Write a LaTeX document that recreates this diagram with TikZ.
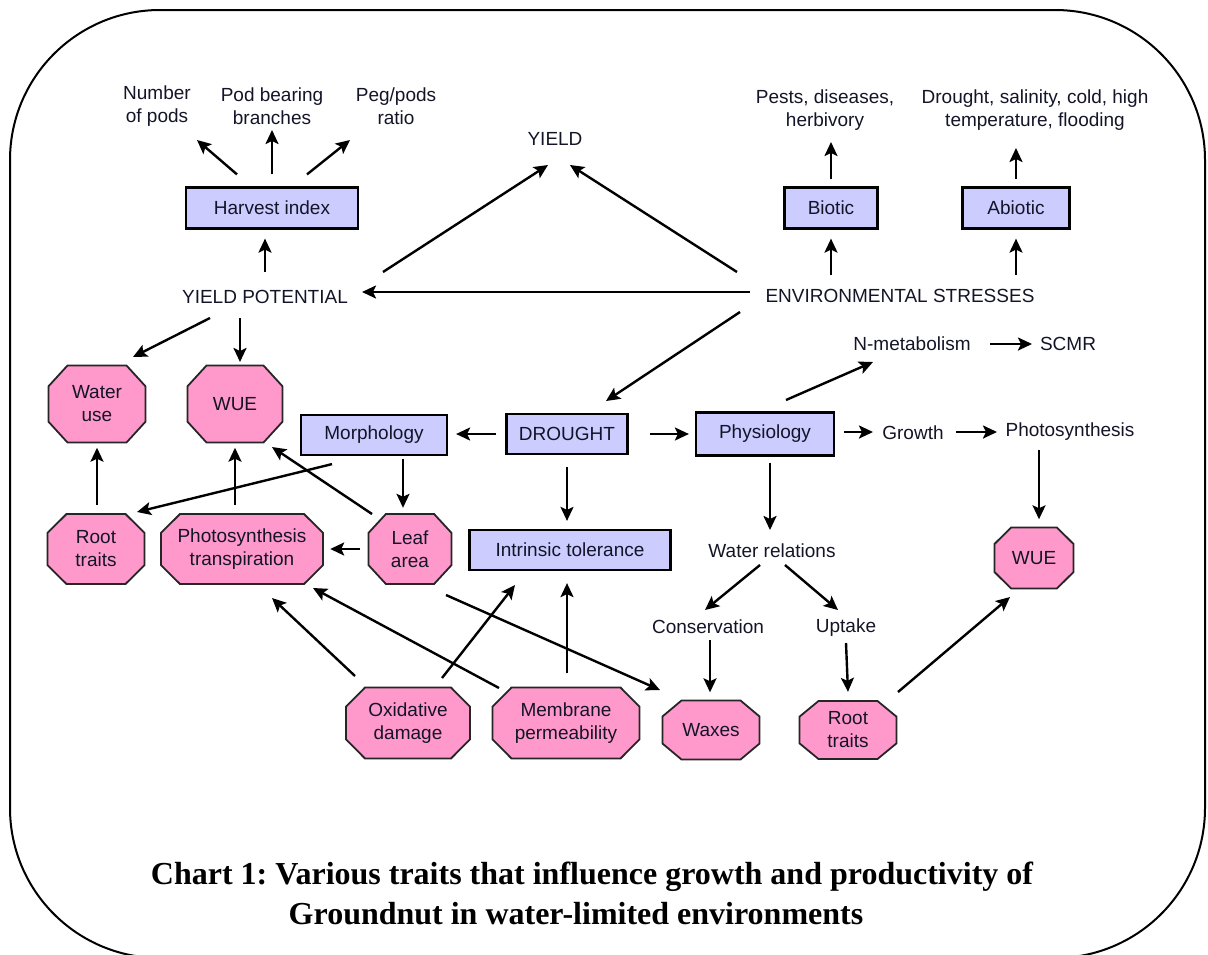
\documentclass[tikz,border=0pt]{standalone}
\usepackage{fontspec}
\setmainfont{Liberation Serif}
\setsansfont{Liberation Sans}
\usepackage{tikz}
\usetikzlibrary{shapes,arrows,positioning,calc,arrows.meta}
\frenchspacing

\definecolor{boxblue}{HTML}{CCCCFF}
\definecolor{traitpink}{HTML}{FF99CC}
\definecolor{inkc}{HTML}{141428}

\tikzset{
  lbl/.style={font=\sffamily\fontsize{19}{23}\selectfont, text=inkc, align=center, inner sep=2pt},
  factor/.style={lbl, draw=black, line width=2.2pt, fill=boxblue, minimum height=41pt},
  traitline/.style={draw=black!85, line width=1.8pt, fill=traitpink},
  arr/.style={line width=2.4pt, -{Stealth[length=14pt,width=13pt,inset=3pt]}},
  caption/.style={font=\rmfamily\bfseries\fontsize{32}{36}\selectfont, text=black}
}

% octagon with its text node: name, x, y, width, height, text
\newcommand\traitbox[6]{%
  \pgfmathsetmacro\cx{min(19,0.21*#4)}%
  \pgfmathsetmacro\cy{0.27*#5}%
  \path[traitline] ({#2-#4/2+\cx},{#3-#5/2}) -- ({#2+#4/2-\cx},{#3-#5/2})
    -- ({#2+#4/2},{#3-#5/2+\cy}) -- ({#2+#4/2},{#3+#5/2-\cy})
    -- ({#2+#4/2-\cx},{#3+#5/2}) -- ({#2-#4/2+\cx},{#3+#5/2})
    -- ({#2-#4/2},{#3+#5/2-\cy}) -- ({#2-#4/2},{#3-#5/2+\cy}) -- cycle;
  \node[lbl, minimum width=#4pt, minimum height=#5pt, inner sep=0pt] (#1) at (#2,#3) {#6};%
}

\begin{document}
\begin{tikzpicture}[x=1pt,y=-1pt]
    \useasboundingbox (0,0) rectangle (1208,954);
    \draw[line width=2pt, rounded corners=150pt] (10,10) rectangle (1205,958);

    % yield side
    \node[lbl] (pods) at (157,106) {Number\\of pods};
    \node[lbl] (branches) at (272,106) {Pod bearing\\branches};
    \node[lbl] (pegs) at (396,106) {Peg/pods\\ratio};
    \node[factor, minimum width=172pt] (harvest) at (272,208) {Harvest index};
    \node[lbl] (yield) at (555,139) {YIELD};
    \node[lbl] (potential) at (265,297) {YIELD POTENTIAL};

    % stresses
    \node[lbl] (stress) at (900,296) {ENVIRONMENTAL STRESSES};
    \node[lbl] (pests) at (825,110) {Pests, diseases,\\herbivory};
    \node[lbl] (abiolist) at (1035,110) {Drought, salinity, cold, high\\temperature, flooding};
    \node[factor, minimum width=93pt] (biotic) at (831,208) {Biotic};
    \node[factor, minimum width=107pt] (abiotic) at (1016,208) {Abiotic};
    \node[lbl] (nmet) at (912,344) {N-metabolism};
    \node[lbl] (scmr) at (1068,344) {SCMR};

    % drought row
    \node[factor, minimum width=146pt, minimum height=40pt] (morph) at (374,435) {Morphology};
    \node[factor, minimum width=121pt, minimum height=40pt] (drought) at (567,434) {DROUGHT};
    \node[factor, minimum width=138pt, minimum height=43pt] (physio) at (765,434) {Physiology};
    \node[lbl] (growth) at (913,433) {Growth};
    \node[lbl] (photoR) at (1070,432) {Photosynthesis};
    \node[factor, minimum width=201pt, minimum height=40pt] (intrinsic) at (570,550) {Intrinsic tolerance};
    \node[lbl] (relations) at (772,551) {Water relations};
    \node[lbl] (conserv) at (708,627) {Conservation};
    \node[lbl] (uptake) at (846,628) {Uptake};

    % traits
    \traitbox{wateruse}{97}{404}{97}{77}{Water\\use}
    \traitbox{wue}{235}{404}{95}{77}{WUE}
    \traitbox{rootL}{96}{549}{97}{70}{Root\\traits}
    \traitbox{photo}{242}{549}{162}{70}{Photosynthesis\\transpiration}
    \traitbox{leaf}{410}{549}{83}{70}{Leaf\\area}
    \traitbox{wueR}{1034}{558}{79}{61}{WUE}
    \traitbox{oxid}{408}{723}{124}{71}{Oxidative\\damage}
    \traitbox{membrane}{566}{723}{147}{71}{Membrane\\permeability}
    \traitbox{waxes}{711}{730}{97}{59}{Waxes}
    \traitbox{rootR}{848}{730}{97}{58}{Root\\traits}

    % arrows
    \draw[arr] ($(harvest.north)+(-35,-12)$) -- ($(pods)+(40,34)$);
    \draw[arr] ($(harvest.north)+(0,-12)$) -- ($(branches)+(0,24)$);
    \draw[arr] ($(harvest.north)+(35,-12)$) -- ($(pegs)+(-46,34)$);
    \draw[arr] ($(potential)+(0,-25)$) -- ($(harvest.south)+(-7,9)$);
    \draw[arr] ($(potential)+(118,-25)$) -- ($(yield)+(-7,26)$);
    \draw[arr] ($(stress)+(-163,-24)$) -- ($(yield)+(15,26)$);
    \draw[arr] ($(stress)+(-150,-4)$) -- ($(potential)+(97,-5)$);
    \draw[arr] ($(stress)+(-69,-21)$) -- ($(biotic.south)+(0,9)$);
    \draw[arr] ($(stress)+(116,-21)$) -- ($(abiotic.south)+(0,9)$);
    \draw[arr] ($(biotic.north)+(0,-7)$) -- ($(pests)+(6,32)$);
    \draw[arr] ($(abiotic.north)+(0,-7)$) -- ($(abiolist)+(-19,38)$);
    \draw[arr] ($(potential)+(-55,21)$) -- ($(wateruse)+(36,-47)$);
    \draw[arr] ($(potential)+(-25,21)$) -- ($(wue)+(5,-42)$);
    \draw[arr] ($(stress)+(-160,16)$) -- ($(drought)+(39,-33)$);
    \draw[arr] ($(physio)+(21,-34)$) -- ($(nmet)+(-39,18)$);
    \draw[arr] ($(nmet)+(78,0)$) -- ($(scmr)+(-36,0)$);
    \draw[arr] ($(drought.west)+(-9,0)$) -- ($(morph.east)+(8,-1)$);
    \draw[arr] ($(drought.east)+(21,0)$) -- ($(physio.west)+(-6,0)$);
    \draw[arr] ($(physio.east)+(9,-2)$) -- ($(growth)+(-40,-1)$);
    \draw[arr] ($(growth)+(43,-1)$) -- ($(photoR)+(-73,0)$);
    \draw[arr] ($(photoR)+(-31,18)$) -- ($(wueR.north)+(5,-8)$);
    \draw[arr] ($(physio.south)+(5,6)$) -- ($(relations)+(-2,-21)$);
    \draw[arr] ($(drought.south)+(0,12)$) -- ($(intrinsic.north)+(-3,-8)$);
    \draw[arr] ($(morph.south)+(29,3)$) -- ($(leaf.north)+(-7,-6)$);
    \draw[arr] ($(morph.south)+(-42,8)$) -- ($(rootL)+(41,-37)$);
    \draw[arr] ($(rootL.north)+(1,-9)$) -- ($(wateruse.south)+(0,5)$);
    \draw[arr] ($(photo.north)+(-7,-9)$) -- ($(wue.south)+(0,5)$);
    \draw[arr] ($(leaf)+(-38,-35)$) -- ($(wue)+(37,43)$);
    \draw[arr] ($(leaf.west)+(-8,0)$) -- ($(photo.east)+(7,0)$);
    \draw[arr] ($(leaf)+(36,46)$) -- ($(waxes)+(-51,-40)$);
    \draw[arr] ($(oxid)+(-53,-47)$) -- ($(photo)+(30,49)$);
    \draw[arr] ($(membrane)+(-67,-35)$) -- ($(photo)+(71,39)$);
    \draw[arr] ($(oxid)+(34,-45)$) -- ($(intrinsic)+(-55,35)$);
    \draw[arr] ($(membrane.north)+(1,-14)$) -- ($(intrinsic.south)+(-3,12)$);
    \draw[arr] ($(relations)+(-12,14)$) -- ($(conserv)+(-3,-17)$);
    \draw[arr] ($(relations)+(13,14)$) -- ($(uptake)+(-8,-18)$);
    \draw[arr] ($(conserv)+(2,13)$) -- ($(waxes.north)+(-1,-8)$);
    \draw[arr] ($(uptake)+(0,15)$) -- ($(rootR.north)+(0,-9)$);
    \draw[arr] ($(rootR)+(50,-38)$) -- ($(wueR)+(-24,39)$);

    % caption
    \node[caption] (title1) at (592,877) {Chart 1: Various traits that influence growth and productivity of};
    \node[caption] (title2) at (576,914) {Groundnut in water-limited environments};
\end{tikzpicture}
\end{document}
